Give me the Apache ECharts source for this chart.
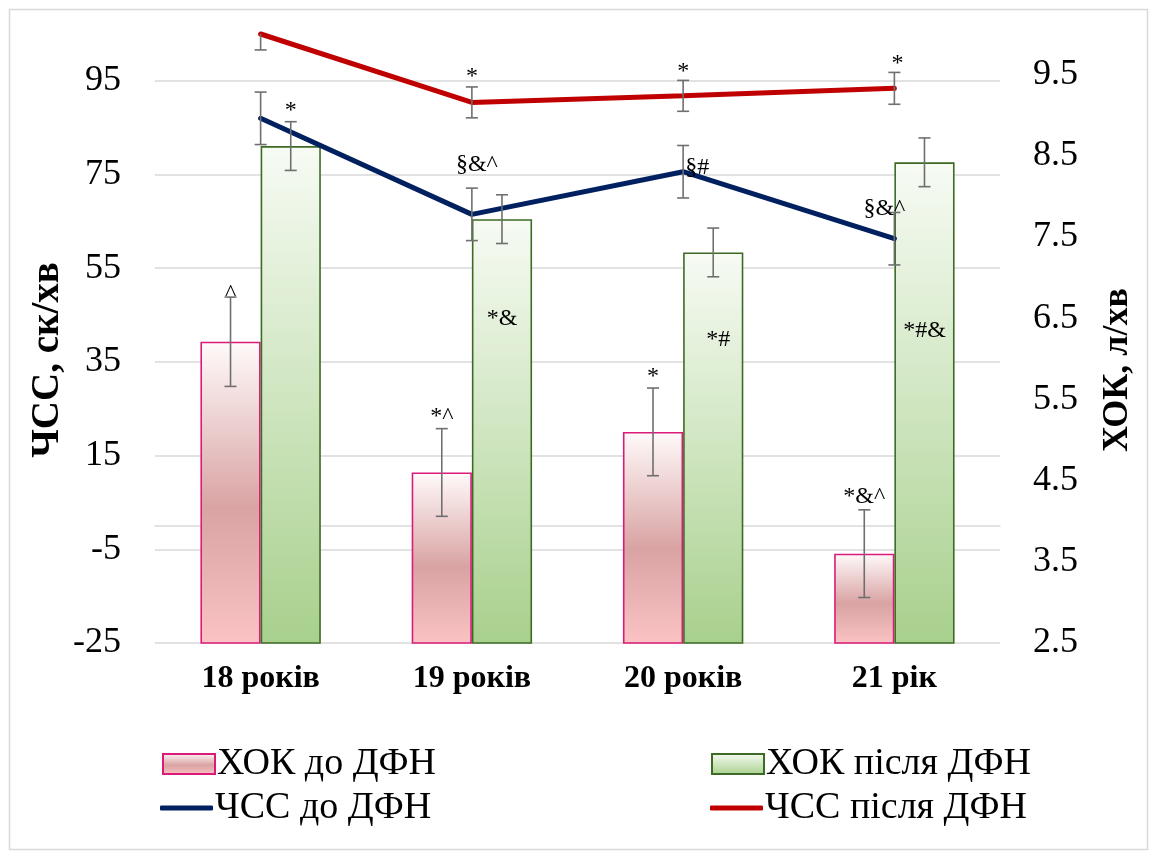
<!DOCTYPE html>
<html><head><meta charset="utf-8">
<script src="https://cdn.jsdelivr.net/npm/echarts@6/dist/echarts.min.js"></script>
<style>html,body{margin:0;padding:0;background:#fff}#c{width:1152px;height:854px}</style>
</head><body><div id="c"></div>
<script>
// ---- data ----
const categories = ['18 років', '19 років', '20 років', '21 рік'];
const hokBefore = [6.21, 4.60, 5.10, 3.60];
const hokBeforeErr = [0.55, 0.54, 0.54, 0.54];
const hokAfter = [8.62, 7.72, 7.31, 8.42];
const hokAfterErr = [0.30, 0.30, 0.30, 0.30];
const hrBefore = [87.0, 66.5, 75.6, 61.3];
const hrBeforeErr = [5.6, 5.6, 5.6, 5.6];
const hrAfter = [105.0, 90.4, 91.8, 93.4];
const hrAfterErr = [3.4, 3.3, 3.3, 3.4];
const hokBeforeMarks = ['^', '*^', '*', '*&^'];
const hokAfterMarks = ['*', '*&', '*#', '*#&'];
const hrBeforeMarks = ['', '§&^', '§#', '§&^'];
const hrAfterMarks = ['', '*', '*', '*'];
const seriesNames = ['ХОК до ДФН', 'ХОК після ДФН', 'ЧСС до ДФН', 'ЧСС після ДФН'];
const leftAxisTitle = 'ЧСС, ск/хв';
const rightAxisTitle = 'ХОК, л/хв';
const leftMin = -25, leftMax = 105, leftStep = 20;
const rightMin = 2.5, rightMax = 10, rightStep = 1;

// ---- layout (pixel offsets of annotation text from top of error bar) ----
const offHokBefore = [[0, -3], [0, -12], [0, -11], [0, -13]];
const offHokAfter = [[0, -11], [0, 124], [5, 112], [0, 193]];
const offHrBefore = [[0, 0], [5, -23], [14, 22], [-10, -4]];
const offHrAfter = [[0, 0], [0, -10], [0, -9], [3, -9]];

const FONT = '"Liberation Serif", "Times New Roman", serif';
const GRID_COLOR = '#d9d9d9';

function errSeries(vals, errs, marks, offs, axisIdx, shiftFrac) {
  return {
    type: 'custom', yAxisIndex: axisIdx, z: 10, clip: true, silent: true,
    data: vals.map((v, i) => [i, v, errs[i]]),
    encode: { x: 0, y: 1 },
    renderItem(params, api) {
      const i = api.value(0), v = api.value(1), e = api.value(2);
      const band = api.size([1, 0])[0];
      const top = api.coord([i, v + e]), bot = api.coord([i, v - e]);
      const x = top[0] + band * shiftFrac;
      const cap = 6;
      const st = { stroke: '#6f6f6f', lineWidth: 1.6 };
      const children = [
        { type: 'line', shape: { x1: x, y1: top[1], x2: x, y2: bot[1] }, style: st },
        { type: 'line', shape: { x1: x - cap, y1: top[1], x2: x + cap, y2: top[1] }, style: st },
        { type: 'line', shape: { x1: x - cap, y1: bot[1], x2: x + cap, y2: bot[1] }, style: st }
      ];
      const m = marks[params.dataIndex];
      if (m) {
        children.push({
          type: 'text', x: x + offs[i][0], y: top[1] + offs[i][1],
          style: { text: m, font: '24px ' + FONT, fill: '#000', align: 'center', verticalAlign: 'middle' }
        });
      }
      return { type: 'group', children };
    }
  };
}

const pinkGrad = new echarts.graphic.LinearGradient(0, 0, 0, 1, [
  { offset: 0, color: '#fffafa' }, { offset: 0.55, color: '#d9a3a3' }, { offset: 1, color: '#fbc3c3' }]);
const greenGrad = new echarts.graphic.LinearGradient(0, 0, 0, 1, [
  { offset: 0, color: '#f7fbf4' }, { offset: 1, color: '#a8d08d' }]);

const legendText = { fontFamily: FONT, fontSize: 38, color: '#000', padding: [0, 0, 0, -3] };
const barLegend = { orient: 'horizontal', padding: 0, itemWidth: 52, itemHeight: 20, icon: 'rect', textStyle: legendText };
const lineLegend = { orient: 'horizontal', padding: 0, itemWidth: 53, itemHeight: 5, icon: 'roundRect', textStyle: legendText };

const chart = echarts.init(document.getElementById('c'), null, { renderer: 'canvas' });
chart.setOption({
  animation: false,
  backgroundColor: '#fff',
  grid: { left: 155, right: 152, top: 34, bottom: 211, containLabel: false },
  xAxis: {
    type: 'category', data: categories,
    axisLine: { lineStyle: { color: GRID_COLOR, width: 1.5 } },
    axisTick: { show: false },
    axisLabel: { fontFamily: FONT, fontWeight: 'bold', fontSize: 32, color: '#000', margin: 20 }
  },
  yAxis: [
    {
      type: 'value', min: leftMin, max: leftMax, interval: leftStep,
      axisLine: { show: false }, axisTick: { show: false },
      splitLine: { show: true, showMaxLine: false, lineStyle: { color: GRID_COLOR, width: 1.5 } },
      axisLabel: { fontFamily: FONT, fontSize: 36, color: '#000', margin: 34, showMaxLabel: false }
    },
    {
      type: 'value', position: 'right', min: rightMin, max: rightMax, interval: rightStep,
      axisLine: { show: false }, axisTick: { show: false }, splitLine: { show: false },
      axisLabel: { fontFamily: FONT, fontSize: 36, color: '#000', margin: 33, showMaxLabel: false,
        formatter: v => v.toFixed(1) }
    }
  ],
  legend: [
    Object.assign({ data: [seriesNames[0]], left: 162, top: 745 }, barLegend),
    Object.assign({ data: [seriesNames[1]], left: 711, top: 745 }, barLegend),
    Object.assign({ data: [seriesNames[2]], left: 160, top: 789 }, lineLegend),
    Object.assign({ data: [seriesNames[3]], left: 710, top: 789 }, lineLegend)
  ],
  graphic: [
    { type: 'rect', left: 7, top: 7, silent: true, shape: { width: 1138, height: 840 },
      style: { fill: null, stroke: GRID_COLOR, lineWidth: 1.5 } },
    { type: 'text', x: 48, y: 360, rotation: Math.PI / 2, silent: true,
      style: { text: leftAxisTitle, font: 'bold 39px ' + FONT, fill: '#000', align: 'center', verticalAlign: 'middle' } },
    { type: 'text', x: 1118, y: 370, rotation: Math.PI / 2, silent: true,
      style: { text: rightAxisTitle, font: 'bold 36px ' + FONT, fill: '#000', align: 'center', verticalAlign: 'middle' } }
  ],
  series: [
    { name: seriesNames[0], type: 'bar', yAxisIndex: 1, data: hokBefore,
      barCategoryGap: '43%', barGap: '0%',
      itemStyle: { color: pinkGrad, borderColor: '#dc1a7a', borderWidth: 1.6 } },
    { name: seriesNames[1], type: 'bar', yAxisIndex: 1, data: hokAfter,
      barCategoryGap: '43%', barGap: '0%',
      itemStyle: { color: greenGrad, borderColor: '#3d6b25', borderWidth: 1.6 } },
    { name: seriesNames[2], type: 'line', yAxisIndex: 0, data: hrBefore, symbol: 'none', clip: false, z: 5,
      itemStyle: { color: '#002060' }, lineStyle: { color: '#002060', width: 5, cap: 'round' } },
    { name: seriesNames[3], type: 'line', yAxisIndex: 0, data: hrAfter, symbol: 'none', clip: false, z: 5,
      itemStyle: { color: '#c00000' }, lineStyle: { color: '#c00000', width: 5, cap: 'round' } },
    errSeries(hokBefore, hokBeforeErr, hokBeforeMarks, offHokBefore, 1, -0.1425),
    errSeries(hokAfter, hokAfterErr, hokAfterMarks, offHokAfter, 1, 0.1425),
    errSeries(hrBefore, hrBeforeErr, hrBeforeMarks, offHrBefore, 0, 0),
    errSeries(hrAfter, hrAfterErr, hrAfterMarks, offHrAfter, 0, 0)
  ]
});
</script>
</body></html>
